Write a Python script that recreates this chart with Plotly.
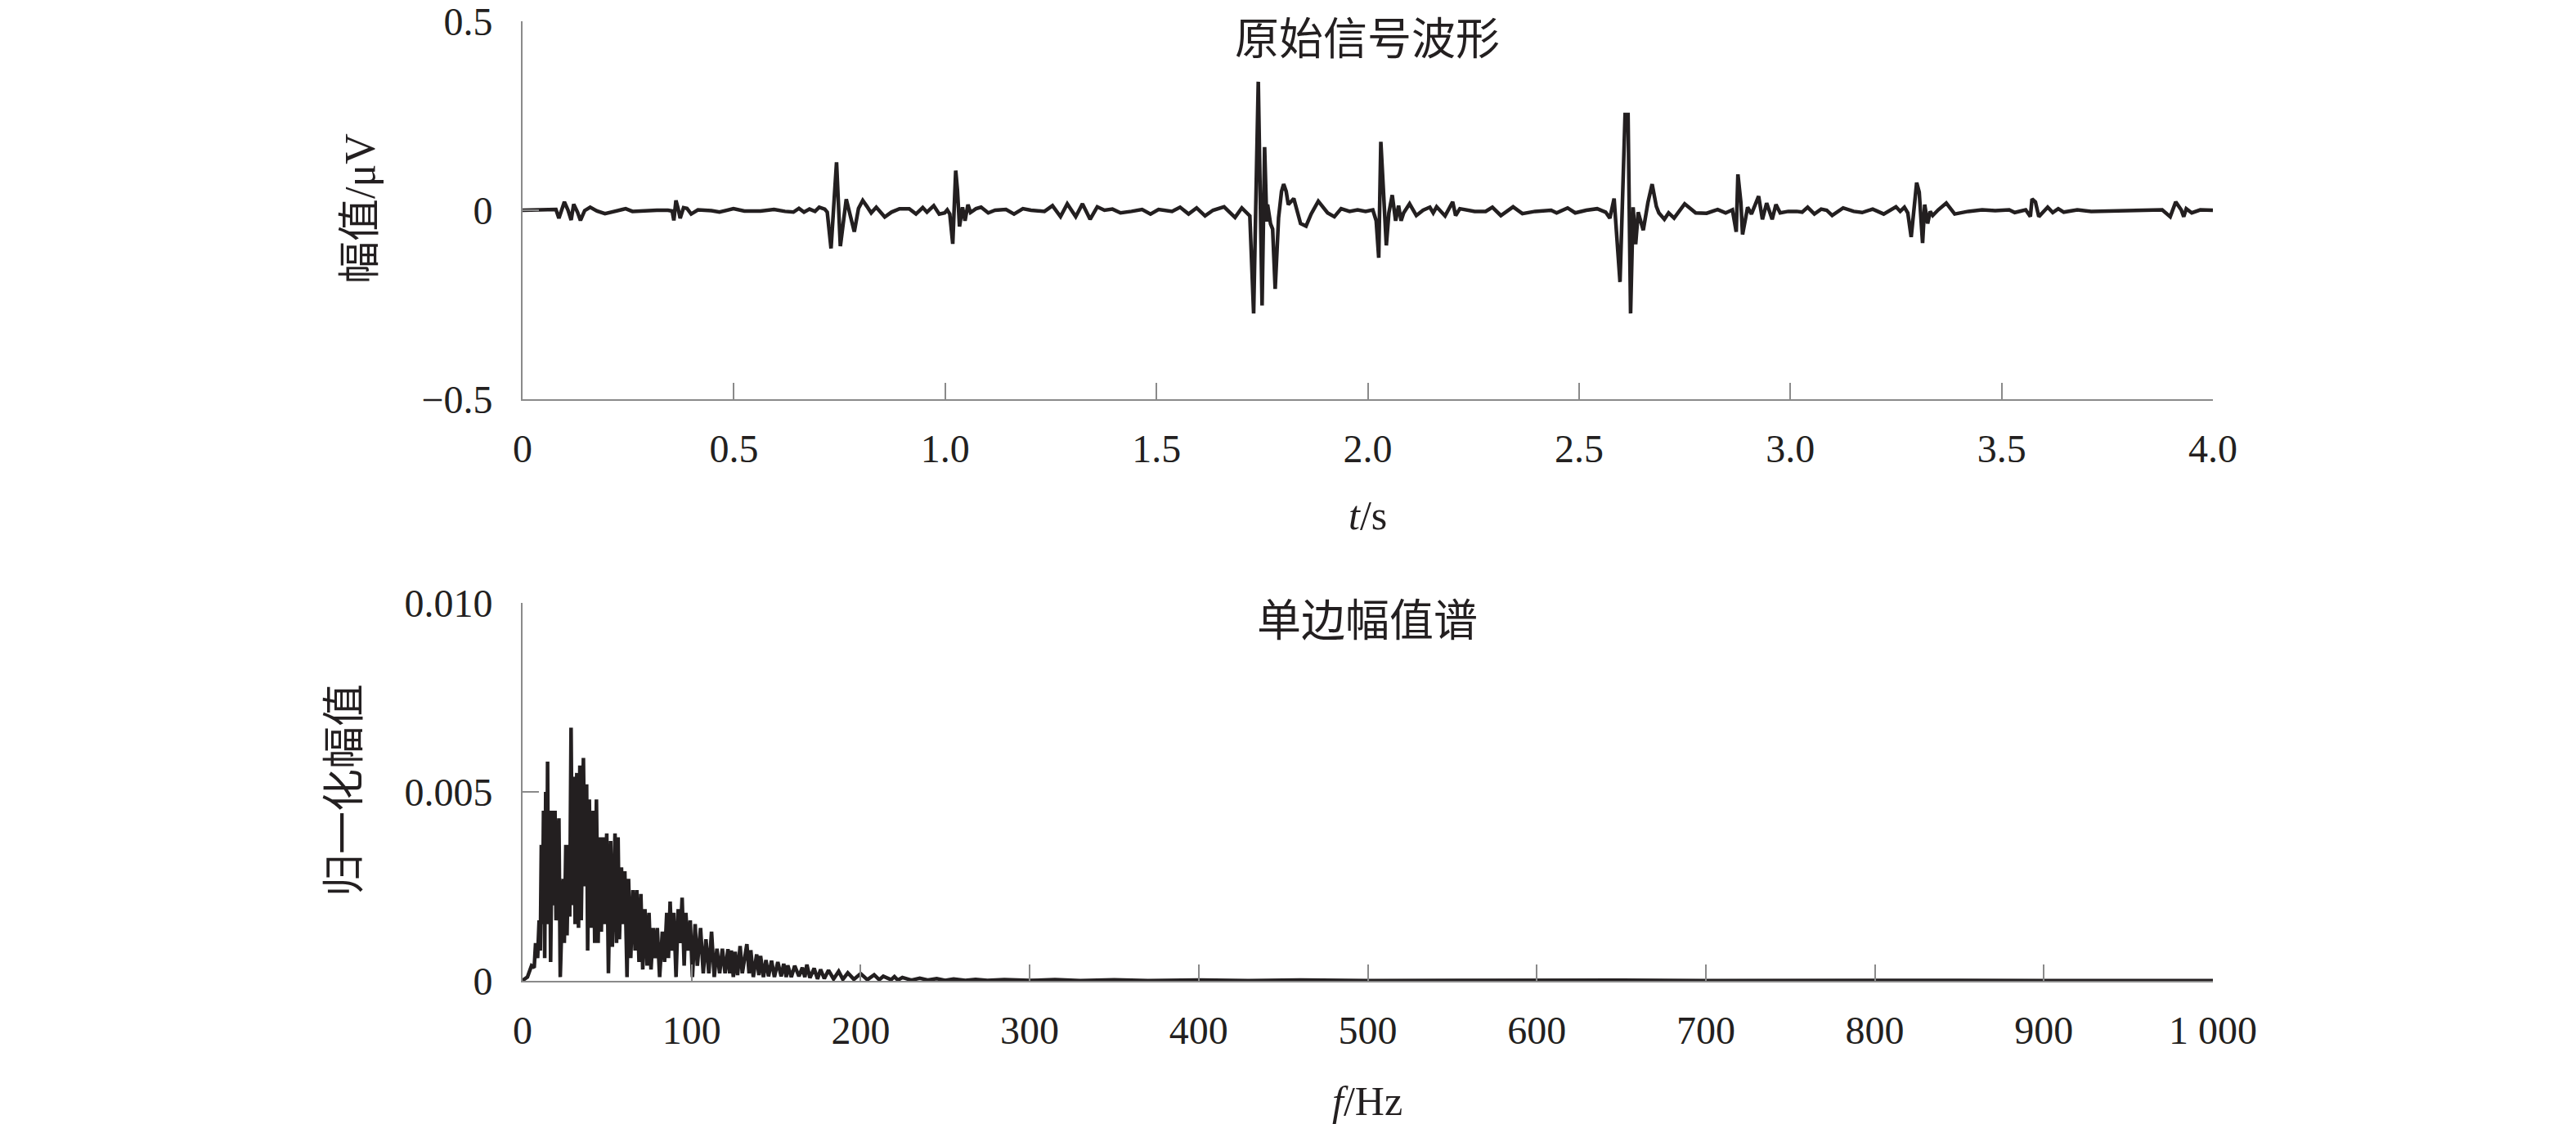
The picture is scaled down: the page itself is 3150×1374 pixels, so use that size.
import plotly.graph_objects as go

# ---------------- data: original signal waveform ----------------
t_s = [0.000, 0.047, 0.073, 0.079, 0.086, 0.099, 0.108, 0.115, 0.121, 0.130, 0.137, 0.147, 0.160, 0.176, 0.195,
       0.215, 0.244, 0.260, 0.286, 0.318, 0.344, 0.354, 0.358, 0.363, 0.368, 0.373, 0.381, 0.389, 0.399, 0.415,
       0.447, 0.466, 0.499, 0.525, 0.563, 0.595, 0.621, 0.641, 0.654, 0.666, 0.679, 0.692, 0.702, 0.715, 0.721,
       0.730, 0.743, 0.752, 0.766, 0.776, 0.785, 0.795, 0.805, 0.815, 0.825, 0.837, 0.857, 0.873, 0.892, 0.915,
       0.931, 0.947, 0.957, 0.973, 0.986,
       0.999, 1.005, 1.011, 1.018, 1.025, 1.029, 1.034, 1.041, 1.047, 1.054, 1.060, 1.073, 1.085, 1.102, 1.118,
       1.144, 1.163, 1.184, 1.203, 1.235, 1.254, 1.273, 1.289, 1.309, 1.325, 1.343, 1.360, 1.377, 1.396, 1.415,
       1.441, 1.466, 1.486, 1.505, 1.537, 1.556, 1.576, 1.595, 1.615, 1.634, 1.660, 1.686, 1.702, 1.721, 1.730,
       1.741, 1.750, 1.756, 1.761, 1.763, 1.770, 1.775, 1.781, 1.789, 1.796, 1.801, 1.807, 1.812, 1.825, 1.834,
       1.841, 1.854, 1.866, 1.883, 1.905, 1.921, 1.937, 1.957, 1.976, 1.995,
       2.012, 2.020, 2.026, 2.031, 2.037, 2.044, 2.050, 2.058, 2.066, 2.073, 2.079, 2.085, 2.099, 2.115, 2.131,
       2.147, 2.155, 2.163, 2.183, 2.201, 2.208, 2.218, 2.253, 2.279, 2.295, 2.315, 2.344, 2.366, 2.396, 2.434,
       2.447, 2.473, 2.491, 2.517, 2.543, 2.563, 2.573, 2.583, 2.597, 2.609, 2.616, 2.622, 2.628, 2.634, 2.640,
       2.652, 2.663, 2.673, 2.683, 2.689, 2.702, 2.712, 2.725, 2.750, 2.776, 2.802, 2.828, 2.847, 2.863, 2.872,
       2.876, 2.883, 2.887, 2.899, 2.908, 2.925, 2.934, 2.944, 2.957, 2.966, 2.976, 2.995,
       3.015, 3.028, 3.041, 3.057, 3.073, 3.086, 3.099, 3.125, 3.150, 3.170, 3.195, 3.221, 3.250, 3.260, 3.270,
       3.278, 3.286, 3.299, 3.305, 3.313, 3.318, 3.325, 3.331, 3.337, 3.350, 3.369, 3.389, 3.421, 3.454, 3.485,
       3.518, 3.531, 3.557, 3.568, 3.572, 3.580, 3.588, 3.609, 3.621, 3.634, 3.647, 3.679, 3.712, 3.776, 3.841,
       3.880, 3.899, 3.912, 3.925, 3.931, 3.937, 3.950, 3.970, 3.988, 4.000]
amp_uV = [0.000, 0.001, 0.000, 0.002, -0.021, 0.022, -0.001, -0.026, 0.016, -0.005, -0.027, -0.001, 0.008, -0.002, -0.009,
          -0.003, 0.004, -0.003, -0.001, 0.000, 0.000, -0.002, -0.027, 0.026, 0.005, -0.021, 0.007, 0.005, -0.010, 0.001,
          -0.001, -0.005, 0.004, -0.002, -0.002, 0.002, -0.003, -0.005, 0.005, -0.005, 0.003, -0.003, 0.008, 0.003, -0.005,
          -0.101, 0.127, -0.095, 0.029, -0.020, -0.057, 0.005, 0.026, 0.010, -0.007, 0.008, -0.018, -0.005, 0.004, 0.004,
          -0.010, 0.007, -0.005, 0.012, -0.010,
          -0.007, 0.001, -0.010, -0.089, 0.105, 0.055, -0.043, 0.008, -0.028, 0.015, -0.006, 0.004, 0.008, -0.007, 0.000,
          0.002, -0.010, 0.004, 0.000, -0.003, 0.012, -0.017, 0.017, -0.017, 0.017, -0.024, 0.009, 0.000, 0.003, -0.007,
          -0.003, 0.002, -0.010, 0.002, -0.003, 0.008, -0.010, 0.006, -0.015, 0.000, 0.009, -0.019, 0.006, -0.015, -0.273,
          0.340, -0.252, 0.167, -0.030, 0.015, -0.036, -0.050, -0.208, -0.020, 0.050, 0.069, 0.050, 0.015, 0.031, -0.010,
          -0.035, -0.042, -0.010, 0.024, -0.007, -0.017, 0.004, -0.003, 0.001, -0.003,
          0.001, -0.028, -0.126, 0.181, 0.065, -0.093, -0.007, 0.040, -0.028, 0.012, -0.028, -0.007, 0.017, -0.014, 0.000,
          0.008, -0.007, 0.009, -0.015, 0.022, -0.014, 0.004, -0.003, -0.003, 0.008, -0.014, 0.009, -0.009, -0.003, 0.000,
          -0.007, 0.006, -0.007, 0.000, 0.004, -0.005, -0.021, 0.031, -0.190, 0.253, 0.253, -0.273, 0.008, -0.090, -0.005,
          -0.053, 0.020, 0.069, 0.010, -0.007, -0.024, -0.007, -0.021, 0.017, -0.007, -0.008, 0.002, -0.007, 0.001, -0.057,
          0.095, 0.020, -0.064, 0.008, -0.010, 0.037, -0.024, 0.019, -0.024, 0.015, -0.007, -0.003,
          -0.003, -0.005, 0.008, -0.010, 0.003, 0.000, -0.014, 0.006, -0.003, -0.006, 0.003, -0.010, 0.009, -0.003, 0.008,
          -0.007, -0.071, 0.073, 0.048, -0.087, 0.015, -0.035, -0.003, -0.014, 0.001, 0.019, -0.010, -0.003, 0.001, -0.001,
          0.001, -0.006, 0.001, -0.017, 0.030, 0.022, -0.017, 0.008, -0.006, 0.004, -0.005, 0.001, -0.003, -0.001, 0.001,
          0.001, -0.017, 0.022, 0.001, -0.017, 0.004, -0.007, 0.001, 0.001, 0.000]

# ---------------- data: single-sided amplitude spectrum ----------------
freq_Hz = [0, 2.9, 5.3, 6.9, 7.7, 8.9, 9.8, 10.5, 11.1, 11.8, 12.4, 13.1, 13.7, 14.4, 14.8, 15.3, 16.0, 16.6, 17.6,
           18.2, 19.2, 19.8, 20.8, 21.5, 22.3, 23.4, 24.0, 24.7, 25.6, 26.3, 27.3, 27.9, 28.7, 29.5, 30.3, 31.1, 32.1,
           33.1, 33.9, 34.7, 36.0, 36.9, 37.9, 38.5, 39.5, 40.5, 41.8, 42.7, 43.7, 44.7, 45.6, 46.6, 47.6, 48.5, 49.8,
           50.8, 52.1, 53.1, 54.7, 55.6, 56.5, 57.3, 58.5, 59.5, 60.5, 61.8, 62.7, 64.0, 65.3, 66.6, 67.6, 68.9, 70.0,
           71.1, 72.4, 73.7, 74.8, 76.0, 77.3, 78.5, 79.7, 81.1, 82.7, 84.0, 85.3, 86.3, 87.3, 88.4, 89.5, 90.8, 92.1,
           93.2, 94.4, 95.6, 96.6, 97.9, 99.2, 100.5, 102.1, 103.4, 105.3, 106.9, 108.5, 110.2, 111.8, 113.4, 115.0,
           116.6, 118.2, 119.8, 121.5, 122.5, 123.5, 124.7, 125.8, 127.2, 128.7, 130.0, 131.5, 132.7, 134.0, 135.0,
           136.5, 138.5, 139.8, 140.8, 142.5, 144.0, 145.5, 147.3, 149.0, 151.0, 153.0, 154.5, 156.0, 156.9, 159.0,
           161.0, 163.5, 165.5, 167.0, 168.2, 170.0, 172.5, 174.5, 176.3, 178.5, 181.0, 184.0, 187.0, 189.5, 192.4,
           196.0, 200.0, 204.0, 208.0, 211.0, 213.4, 218.0, 220.0, 222.0, 224.7, 230.0, 235.0, 240.0, 245.0, 250.0,
           255.0, 262.0, 268.0, 275.0, 285.0, 300.0, 315.0, 330.0, 350.0, 370.0, 400.0, 430.0, 460.0, 500.0, 550.0,
           600.0, 650.0, 700.0, 750.0, 800.0, 850.0, 900.0, 950.0, 1000.0]
norm_amp = [0.00001, 0.00010, 0.00040, 0.00035, 0.00100, 0.00060, 0.00160, 0.00080, 0.00360, 0.00150, 0.00450, 0.00060,
            0.00500, 0.00200, 0.00580, 0.00150, 0.00450, 0.00050, 0.00450, 0.00200, 0.00450, 0.00160, 0.00350, 0.00430,
            0.00010, 0.00250, 0.00270, 0.00100, 0.00360, 0.00120, 0.00360, 0.00170, 0.00670, 0.00200, 0.00540, 0.00150,
            0.00550, 0.00140, 0.00570, 0.00160, 0.00590, 0.00250, 0.00520, 0.00080, 0.00480, 0.00140, 0.00450, 0.00100,
            0.00480, 0.00100, 0.00380, 0.00130, 0.00380, 0.00150, 0.00390, 0.00020, 0.00370, 0.00090, 0.00390, 0.00100,
            0.00380, 0.00110, 0.00300, 0.00150, 0.00290, 0.00010, 0.00270, 0.00060, 0.00240, 0.00080, 0.00240, 0.00050,
            0.00230, 0.00030, 0.00190, 0.00040, 0.00180, 0.00030, 0.00140, 0.00060, 0.00140, 0.00010, 0.00130, 0.00050,
            0.00180, 0.00060, 0.00210, 0.00080, 0.00180, 0.00010, 0.00190, 0.00100, 0.00220, 0.00040, 0.00180, 0.00080,
            0.00160, 0.00010, 0.00150, 0.00040, 0.00140, 0.00020, 0.00110, 0.00020, 0.00130, 0.00010, 0.00085, 0.00020,
            0.00085, 0.00020, 0.00084, 0.00020, 0.00080, 0.00010, 0.00077, 0.00015, 0.00092, 0.00020, 0.00060, 0.00097,
            0.00020, 0.00081, 0.00010, 0.00070, 0.00015, 0.00066, 0.00010, 0.00055, 0.00012, 0.00053, 0.00010, 0.00050,
            0.00012, 0.00045, 0.00010, 0.00041, 0.00010, 0.00040, 0.00012, 0.00035, 0.00010, 0.00043, 0.00008, 0.00033,
            0.00005, 0.00030, 0.00006, 0.00028, 0.00005, 0.00025, 0.00004, 0.00021, 0.00004, 0.00019, 0.00003, 0.00016,
            0.00003, 0.00012, 0.00003, 0.00011, 0.00002, 0.00009, 0.00002, 0.00007, 0.00002, 0.00006, 0.00001, 0.00005,
            0.00001, 0.00004, 0.00001, 0.000035, 0.00001, 0.00003, 0.000005, 0.000025, 0.000005, 0.00002, 0.000005,
            0.00002, 0.000005, 0.000015, 0.000005, 0.000015, 0.000005, 0.000012, 0.000005, 0.00001, 0.000005, 0.00001,
            0.000005]

# ---------------- tick labels ----------------
t_ticks = [0, 0.5, 1.0, 1.5, 2.0, 2.5, 3.0, 3.5, 4.0]
t_ticktext = ["0", "0.5", "1.0", "1.5", "2.0", "2.5", "3.0", "3.5", "4.0"]
amp_ticks = [-0.5, 0, 0.5]
amp_ticktext = ["\u22120.5", "0", "0.5"]
f_ticks = [0, 100, 200, 300, 400, 500, 600, 700, 800, 900, 1000]
f_ticktext = ["0", "100", "200", "300", "400", "500", "600", "700", "800", "900", "1 000"]
spec_ticks = [0, 0.005, 0.010]
spec_ticktext = ["0", "0.005", "0.010"]

W, H = 3150, 1374
INK = "#231f20"
AXC = "#8a8a8a"
SERIF = "Liberation Serif, Times New Roman, serif"
CJK = "Liberation Serif, Noto Sans CJK SC, sans-serif"

def px_x(x):
    return x / W

def px_y(y):
    return 1 - y / H

fig = go.Figure()
fig.add_trace(go.Scatter(x=t_s, y=amp_uV, mode="lines", xaxis="x", yaxis="y",
                         line=dict(color=INK, width=4.5), showlegend=False, hoverinfo="skip"))
fig.add_trace(go.Scatter(x=freq_Hz, y=norm_amp, mode="lines", xaxis="x2", yaxis="y2",
                         line=dict(color=INK, width=4.5), showlegend=False, hoverinfo="skip"))

common_axis = dict(showgrid=False, zeroline=False, showline=True, linecolor=AXC, linewidth=2,
                   ticks="inside", ticklen=20, tickwidth=2, tickcolor=AXC, automargin=False,
                   ticklabeloverflow="allow",
                   tickfont=dict(family=SERIF, size=48, color=INK), tickmode="array")

xdom = [px_x(639), px_x(2706)]
fig.update_layout(
    width=W, height=H, margin=dict(l=0, r=0, t=0, b=0, autoexpand=False),
    paper_bgcolor="white", plot_bgcolor="white",
    xaxis=dict(domain=xdom, range=[0, 4], anchor="y", tickvals=t_ticks, ticktext=t_ticktext,
               ticklabelstandoff=17, **common_axis),
    yaxis=dict(domain=[px_y(488), px_y(26)], range=[-0.5, 0.5], anchor="x", tickvals=amp_ticks,
               ticktext=amp_ticktext, ticklabelstandoff=25, **common_axis),
    xaxis2=dict(domain=xdom, range=[0, 1000], anchor="y2", tickvals=f_ticks, ticktext=f_ticktext,
                ticklabelstandoff=17, **common_axis),
    yaxis2=dict(domain=[px_y(1199), px_y(737)], range=[0, 0.010], anchor="x2", tickvals=spec_ticks,
                ticktext=spec_ticktext, ticklabelstandoff=25, **common_axis),
)

ann = []
ann.append(dict(text="原始信号波形", x=px_x(1672), y=px_y(49), font=dict(family=CJK, size=54, color=INK)))
ann.append(dict(text="单边幅值谱", x=px_x(1672), y=px_y(760), font=dict(family=CJK, size=54, color=INK)))
ann.append(dict(text="<i>t</i>/s", x=px_x(1672), y=px_y(630), font=dict(family=SERIF, size=50, color=INK)))
ann.append(dict(text="<i>f</i>/Hz", x=px_x(1672), y=px_y(1346), font=dict(family=SERIF, size=50, color=INK)))
ann.append(dict(text="幅值/μV", x=px_x(441), y=px_y(255), textangle=-90, font=dict(family=CJK, size=52, color=INK)))
ann.append(dict(text="归一化幅值", x=px_x(421), y=px_y(966), textangle=-90, font=dict(family=CJK, size=52, color=INK)))
for a in ann:
    a.update(xref="paper", yref="paper", xanchor="center", yanchor="middle", showarrow=False)
fig.update_layout(annotations=ann)

fig.write_html("out.html", config={"displayModeBar": False, "staticPlot": True},
               post_script="document.body.style.margin='0';document.body.style.overflow='hidden';")
